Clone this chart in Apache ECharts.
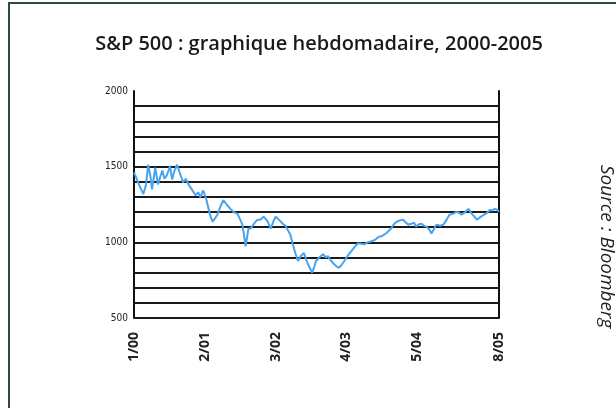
<!DOCTYPE html>
<html>
<head>
<meta charset="utf-8">
<script src="https://cdn.jsdelivr.net/npm/echarts@6/dist/echarts.min.js"></script>
<style>
  html, body { margin: 0; padding: 0; background: #fff; }
  #chart { width: 616px; height: 408px; }
</style>
</head>
<body>
<div id="chart"></div>
<script>
// mois depuis janvier 2000 / cours hebdomadaire du S&P 500
var months = [0, 0.5, 1, 1.7, 2.2, 2.6, 3, 3.3, 3.6, 3.9, 4.4, 4.8, 5.2, 5.6, 6, 6.3, 6.6, 7, 7.4, 7.9, 8.4, 9, 9.5, 10, 10.6, 11.3, 11.8,
    12.2, 12.7, 13.3, 13.9, 14.4, 14.9, 15.3, 15.9, 16.4, 17, 17.7, 18.3, 19, 19.5, 19.9, 20.5, 21, 21.4, 22.3, 22.7, 23.2, 23.8,
    24.5, 25.1, 25.6, 26, 26.6, 27.3, 27.8, 28.2, 28.7, 29.1, 29.6, 30.1, 30.6, 31.2, 31.9, 32.3, 32.7, 33.1, 33.4, 34, 34.7, 35.2,
    35.6, 36.2, 36.6, 37.1, 37.6, 38.1, 38.6, 39.2, 39.9, 40.5, 41.1, 41.7, 42.3, 42.9, 43.5, 44.2, 45, 45.4, 46.3, 47.2, 47.7,
    48.2, 48.8, 49.4, 49.9, 50.4, 50.9, 51.4, 51.8, 52.3, 52.8, 53.2, 53.7, 54.2, 54.6, 55.1, 55.5, 56.2, 56.8, 57.4, 57.9, 58.6,
    59.2, 59.7, 60.1, 60.8, 61.4, 62, 62.5, 62.9, 63.5, 64.2, 64.8, 65.3, 65.8, 66.2, 66.7, 67];
var closes = [1461, 1420, 1375, 1318, 1380, 1513, 1440, 1350, 1420, 1493, 1383, 1430, 1474, 1420, 1441, 1470, 1506, 1415, 1470, 1513,
    1460, 1396, 1420, 1383, 1350, 1311, 1330, 1298, 1344, 1280, 1190, 1136, 1160, 1182, 1240, 1279, 1250, 1221, 1200, 1188, 1150,
    1117, 974, 1091, 1091, 1136, 1149, 1150, 1169, 1140, 1091, 1140, 1169, 1150, 1123, 1110, 1084, 1050, 994, 930, 877, 909, 929,
    857, 830, 799, 840, 877, 900, 922, 900, 909, 877, 860, 844, 831, 850, 877, 910, 942, 970, 994, 990, 987, 1000, 1006, 1015, 1039,
    1039, 1060, 1091, 1120, 1136, 1145, 1149, 1130, 1117, 1123, 1130, 1104, 1120, 1123, 1110, 1104, 1085, 1058, 1090, 1117, 1110,
    1117, 1150, 1182, 1190, 1201, 1195, 1182, 1200, 1221, 1188, 1170, 1149, 1165, 1182, 1195, 1214, 1210, 1221, 1215, 1201];
var tickMonths = [0, 13, 26, 39, 52, 67];
var tickLabels = ['1/00', '2/01', '3/02', '4/03', '5/04', '8/05'];
var yLabels = [500, 1000, 1500, 2000];

var series = months.map(function (m, i) { return [m, closes[i]]; });

var myChart = echarts.init(document.getElementById('chart'));
var gridColors = [];
for (var i = 0; i < 15; i++) gridColors.push('#1a1a1a');
gridColors.push('transparent');

myChart.setOption({
    animation: false,
    backgroundColor: '#fff',
    title: {
        text: 'S&P 500 : graphique hebdomadaire, 2000-2005',
        left: 314,
        top: 29,
        textAlign: 'center',
        textStyle: {
            fontFamily: 'Open Sans',
            fontWeight: 600,
            fontSize: 20,
            color: '#1a1a1a'
        }
    },
    graphic: [
        {
            type: 'polyline',
            shape: { points: [[9, 410], [9, 3], [620, 3]] },
            style: { stroke: '#2e4a3c', lineWidth: 2, fill: null }
        },
        {
            type: 'text',
            x: 616,
            y: 165,
            rotation: -Math.PI / 2,
            style: {
                text: 'Source : Bloomberg',
                fontFamily: 'Open Sans',
                fontStyle: 'italic',
                fontSize: 19,
                fill: '#222'
            }
        }
    ],
    grid: {
        left: 134,
        right: 117,
        top: 91,
        bottom: 90
    },
    xAxis: {
        type: 'value',
        min: 0,
        max: 67,
        axisLine: { show: false },
        axisTick: { show: false },
        splitLine: { show: false },
        axisLabel: {
            customValues: tickMonths,
            rotate: 90,
            margin: 14,
            fontFamily: 'Open Sans',
            fontWeight: 'bold',
            fontSize: 14,
            color: '#222',
            formatter: function (v) {
                var k = tickMonths.indexOf(v);
                return k >= 0 ? tickLabels[k] : '';
            }
        }
    },
    yAxis: [
        {
            type: 'value',
            min: 500,
            max: 2000,
            interval: 100,
            axisLine: { show: true, lineStyle: { color: '#111', width: 2 } },
            axisTick: { show: false },
            splitLine: { show: true, lineStyle: { color: gridColors, width: 2 } },
            axisLabel: {
                customValues: yLabels,
                margin: 6,
                fontFamily: 'DejaVu Sans Condensed',
                fontSize: 10,
                color: '#222',
                formatter: function (v) { return String(v); }
            }
        },
        {
            type: 'value',
            position: 'right',
            min: 500,
            max: 2000,
            axisLine: { show: true, lineStyle: { color: '#111', width: 2 } },
            axisTick: { show: false },
            splitLine: { show: false },
            axisLabel: { show: false }
        }
    ],
    series: [
        {
            type: 'line',
            data: series,
            showSymbol: false,
            lineStyle: { color: '#46a4f0', width: 2 },
            z: 5
        }
    ]
});
</script>
</body>
</html>
